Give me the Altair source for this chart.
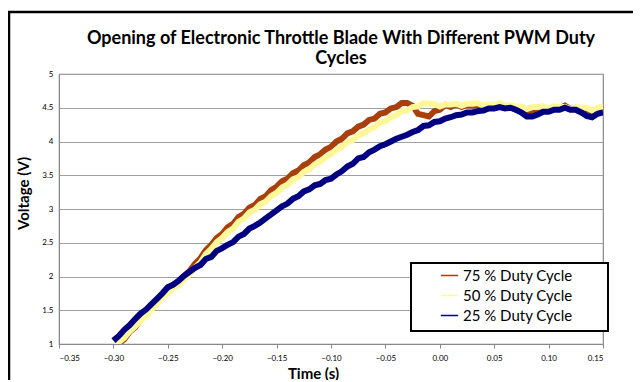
import altair as alt
import pandas as pd

# time grid (s), sampled every 5 ms
time_s = [round(-0.300 + 0.005 * i, 3) for i in range(91)]

duty_75 = [0.93, 1.01, 1.07, 1.18, 1.25, 1.36, 1.43, 1.53, 1.61, 1.72,
           1.79, 1.88, 1.92, 2.01, 2.08, 2.19, 2.27, 2.39, 2.47, 2.57,
           2.63, 2.73, 2.78, 2.88, 2.93, 3.02, 3.06, 3.15, 3.19, 3.28,
           3.33, 3.41, 3.45, 3.53, 3.57, 3.65, 3.69, 3.77, 3.81, 3.88,
           3.92, 4.00, 4.04, 4.12, 4.15, 4.22, 4.25, 4.32, 4.34, 4.41,
           4.43, 4.49, 4.51, 4.57, 4.57, 4.53, 4.41, 4.39, 4.37, 4.45,
           4.47, 4.54, 4.51, 4.55, 4.51, 4.54, 4.53, 4.54, 4.51, 4.52,
           4.51, 4.54, 4.50, 4.51, 4.47, 4.46, 4.42, 4.46, 4.47, 4.51,
           4.47, 4.50, 4.49, 4.53, 4.48, 4.49, 4.45, 4.48, 4.44, 4.48,
           4.47]

duty_50 = [0.94, 1.03, 1.09, 1.19, 1.26, 1.35, 1.41, 1.51, 1.59, 1.69,
           1.75, 1.83, 1.87, 1.96, 2.03, 2.13, 2.21, 2.33, 2.41, 2.51,
           2.57, 2.66, 2.71, 2.81, 2.86, 2.95, 2.99, 3.07, 3.11, 3.19,
           3.24, 3.32, 3.36, 3.44, 3.47, 3.55, 3.59, 3.66, 3.70, 3.77,
           3.81, 3.88, 3.92, 3.99, 4.02, 4.09, 4.12, 4.18, 4.21, 4.28,
           4.30, 4.36, 4.39, 4.45, 4.46, 4.51, 4.52, 4.57, 4.56, 4.56,
           4.52, 4.55, 4.55, 4.56, 4.53, 4.56, 4.56, 4.57, 4.53, 4.55,
           4.54, 4.57, 4.53, 4.54, 4.52, 4.52, 4.48, 4.51, 4.51, 4.52,
           4.49, 4.52, 4.51, 4.51, 4.48, 4.51, 4.50, 4.50, 4.46, 4.50,
           4.52]

duty_25 = [1.05, 1.12, 1.21, 1.28, 1.37, 1.45, 1.51, 1.59, 1.67, 1.75,
           1.84, 1.88, 1.94, 2.01, 2.07, 2.13, 2.17, 2.26, 2.29, 2.38,
           2.42, 2.47, 2.51, 2.59, 2.63, 2.71, 2.75, 2.80, 2.86, 2.92,
           2.98, 3.04, 3.08, 3.15, 3.19, 3.26, 3.29, 3.35, 3.37, 3.43,
           3.45, 3.51, 3.56, 3.63, 3.67, 3.75, 3.77, 3.84, 3.88, 3.93,
           3.96, 4.00, 4.04, 4.07, 4.10, 4.14, 4.17, 4.23, 4.24, 4.29,
           4.30, 4.34, 4.36, 4.39, 4.40, 4.43, 4.43, 4.45, 4.46, 4.49,
           4.49, 4.51, 4.49, 4.50, 4.47, 4.43, 4.37, 4.37, 4.40, 4.44,
           4.44, 4.47, 4.47, 4.50, 4.47, 4.47, 4.43, 4.38, 4.36, 4.41,
           4.43]

series_names = ["75 % Duty Cycle", "50 % Duty Cycle", "25 % Duty Cycle"]
series_colors = ["#A8400E", "#FFF79A", "#000080"]
title_lines = ["Opening of Electronic Throttle Blade With Different PWM Duty", "Cycles"]
x_ticks = [-0.35, -0.30, -0.25, -0.20, -0.15, -0.10, -0.05, 0.00, 0.05, 0.10, 0.15]
y_ticks = [1, 1.5, 2, 2.5, 3, 3.5, 4, 4.5, 5]

rows = []
for name, vals in zip(series_names, [duty_75, duty_50, duty_25]):
    for t, v in zip(time_s, vals):
        rows.append({"Time": t, "Voltage": v, "Series": name})
df = pd.DataFrame(rows)
one = pd.DataFrame({"a": [0]})

color_scale = alt.Scale(domain=series_names, range=series_colors)

x_enc = alt.X("Time:Q", scale=alt.Scale(domain=[-0.35, 0.15], nice=False),
              axis=alt.Axis(values=x_ticks, format=".2f", grid=False,
                            title="Time (s)", titleX=254, titleY=22,
                            titleFontSize=15, titleFont="Lato", titleFontWeight="bold",
                            labelFontSize=8, labelFont="Lato", labelPadding=6,
                            tickSize=4, tickColor="#888", domainColor="#888"))
y_enc = alt.Y("Voltage:Q", scale=alt.Scale(domain=[1, 5], nice=False),
              axis=alt.Axis(values=y_ticks, format=".1~f", grid=True, gridColor="#A0A0A0",
                            title="Voltage (V)", titleX=-36, titleY=119, titleAngle=-90,
                            titleAlign="center", titleBaseline="middle",
                            titleFontSize=15, titleFont="Lato", titleFontWeight="bold",
                            labelFontSize=8, labelFont="Lato", labelPadding=6,
                            ticks=False, domainColor="#888"))

layers = []
for name in series_names:
    layers.append(
        alt.Chart(df).transform_filter(alt.datum.Series == name)
        .mark_line(strokeWidth=6, clip=True)
        .encode(x=x_enc, y=y_enc,
                color=alt.Color("Series:N", scale=color_scale,
                                legend=alt.Legend(title=None, orient="none",
                                                  legendX=377, legendY=188,
                                                  symbolType="stroke", symbolSize=300,
                                                  symbolStrokeWidth=1.5,
                                                  labelFont="Lato", labelFontSize=15,
                                                  labelOffset=4, rowPadding=2, padding=4,
                                                  labelLimit=300)))
    )

border = alt.Chart(one).mark_rect(
    fill=None, stroke="black", strokeWidth=2.5, clip=False
).encode(x=alt.value(-50), x2=alt.value(700), y=alt.value(-62), y2=alt.value(400))

legend_box = alt.Chart(one).mark_rect(
    fill="white", stroke="black", strokeWidth=2, clip=False
).encode(x=alt.value(352), x2=alt.value(549), y=alt.value(189), y2=alt.value(257))

title1 = alt.Chart(one).mark_text(
    font="Lato", fontSize=18, fontWeight="bold", align="center", baseline="alphabetic",
    color="black", clip=False
).encode(x=alt.value(282), y=alt.value(-30), text=alt.value(title_lines[0]))

title2 = alt.Chart(one).mark_text(
    font="Lato", fontSize=18, fontWeight="bold", align="center", baseline="alphabetic",
    color="black", clip=False
).encode(x=alt.value(282), y=alt.value(-10), text=alt.value(title_lines[1]))

chart = alt.layer(border, *layers, legend_box, title1, title2).properties(
    width=544, height=270,
    autosize=alt.AutoSizeParams(type="none"),
    padding={"left": 51, "top": 66, "right": 30, "bottom": 36},
).configure_view(stroke="#888", strokeWidth=1.2)

chart.save("out.html", embed_options={"renderer": "svg", "actions": False})
